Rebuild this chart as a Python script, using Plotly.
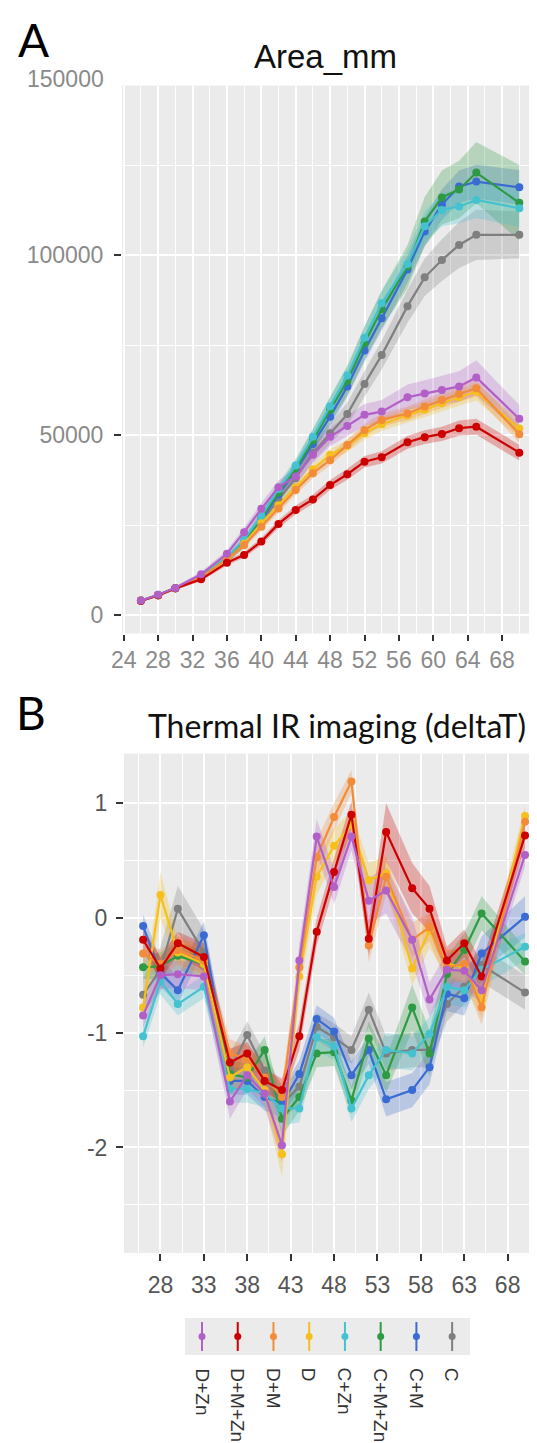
import plotly.graph_objects as go

# day of measurement (both panels)
days = [26, 28, 30, 33, 36, 38, 40, 42, 44, 46, 48, 50, 52, 54, 57, 59, 61, 63, 65, 70]

groups = ["D+Zn", "D+M+Zn", "D+M", "D", "C+Zn", "C+M+Zn", "C+M", "C"]
colors = ["#B260C8", "#CC0000", "#F28C38", "#F5BF1E", "#44C2CF", "#2E9B44", "#3A6BD2", "#7F7F7F"]

# Panel A: Area_mm (mean)
area_d_zn   = [4000, 5600, 7500, 11300, 17000, 23000, 29500, 35500, 38500, 44500, 49500, 52500, 55600, 56500, 60500, 61500, 62500, 63500, 66000, 54500]
area_d_m_zn = [3900, 5500, 7400, 9900, 14500, 16700, 20400, 25300, 29200, 32100, 36100, 39100, 42600, 43800, 48000, 49400, 50300, 51900, 52300, 45100]
area_d_m    = [4000, 5500, 7400, 10500, 15500, 19400, 24500, 29600, 34700, 39400, 43000, 47200, 51400, 54200, 56000, 57900, 59700, 61400, 63000, 50200]
area_d      = [4000, 5500, 7400, 10400, 15200, 19800, 25500, 30500, 35500, 40500, 44500, 47000, 50500, 53000, 55500, 57000, 58800, 60500, 62000, 51800]
area_c_zn   = [4000, 5600, 7500, 10800, 16000, 21000, 27500, 35000, 41500, 49500, 58000, 66500, 77000, 86600, 97500, 108000, 112500, 113500, 115300, 113000]
area_c_m_zn = [4000, 5500, 7400, 10600, 15500, 20000, 27000, 34000, 40500, 48500, 57000, 65000, 75500, 84900, 96800, 109300, 116000, 118200, 122900, 114500]
area_c_m    = [4000, 5500, 7400, 10600, 15500, 20000, 26500, 33500, 40000, 47500, 55100, 63500, 73500, 82400, 96000, 106500, 114000, 119000, 120400, 118800]
area_c      = [4000, 5500, 7400, 10500, 15500, 20000, 26000, 32000, 38000, 45000, 50500, 55800, 64200, 72200, 85800, 93800, 98600, 102800, 105600, 105600]

# Panel A: standard error (ribbon half-width)
area_se_d_zn   = [300, 400, 500, 700, 1000, 1300, 1600, 1900, 2100, 2400, 2600, 2800, 3000, 3200, 3500, 3700, 3900, 4200, 4800, 3800]
area_se_d_m_zn = [200, 300, 400, 500, 700, 800, 1000, 1100, 1200, 1300, 1400, 1500, 1600, 1700, 1800, 1900, 2000, 2100, 2200, 2200]
area_se_d_m    = [200, 300, 400, 500, 700, 900, 1000, 1200, 1300, 1400, 1500, 1600, 1700, 1800, 1900, 2000, 2100, 2200, 2300, 2400]
area_se_d      = [200, 300, 400, 500, 700, 900, 1100, 1200, 1300, 1500, 1600, 1700, 1800, 1900, 2000, 2100, 2200, 2300, 2400, 2500]
area_se_c_zn   = [200, 300, 400, 600, 900, 1100, 1400, 1700, 2000, 2300, 2600, 2900, 3200, 3500, 3900, 4200, 4500, 4700, 5000, 5200]
area_se_c_m_zn = [300, 400, 500, 700, 1000, 1300, 1700, 2100, 2500, 3000, 3500, 4000, 4600, 5200, 6000, 6800, 7500, 8000, 8500, 10500]
area_se_c_m    = [200, 300, 400, 600, 900, 1100, 1400, 1700, 2000, 2300, 2600, 2900, 3200, 3500, 3800, 4100, 4300, 4500, 4700, 4800]
area_se_c      = [200, 300, 400, 600, 900, 1200, 1500, 1800, 2100, 2400, 2800, 3200, 3600, 4000, 4600, 5200, 5800, 6400, 7000, 6500]

# Panel B: Thermal IR imaging (deltaT) (mean)
dt_d_zn   = [-0.85, -0.50, -0.49, -0.51, -1.60, -1.37, -1.53, -1.98, -0.37, 0.71, 0.27, 0.71, 0.15, 0.24, -0.19, -0.71, -0.45, -0.46, -0.63, 0.55]
dt_d_m_zn = [-0.19, -0.44, -0.22, -0.34, -1.26, -1.18, -1.42, -1.50, -1.03, -0.12, 0.40, 0.90, -0.18, 0.75, 0.26, 0.08, -0.37, -0.22, -0.51, 0.72]
dt_d_m    = [-0.31, -0.40, -0.28, -0.37, -1.18, -1.23, -1.39, -1.56, -0.43, 0.53, 0.88, 1.19, -0.24, 0.36, -0.19, -0.08, -0.43, -0.40, -0.78, 0.84]
dt_d      = [-0.78, 0.20, -0.30, -0.40, -1.39, -1.30, -1.50, -2.06, -0.51, 0.36, 0.63, 0.81, 0.33, 0.39, -0.44, -0.11, -0.40, -0.43, -0.72, 0.89]
dt_c_zn   = [-1.03, -0.55, -0.75, -0.60, -1.49, -1.49, -1.53, -1.66, -1.66, -1.04, -1.12, -1.66, -1.37, -1.15, -1.18, -1.01, -0.60, -0.63, -0.45, -0.25]
dt_c_m_zn = [-0.43, -0.42, -0.33, -0.40, -1.36, -1.39, -1.15, -1.75, -1.56, -1.18, -1.17, -1.59, -1.05, -1.37, -0.78, -1.18, -0.49, -0.28, 0.04, -0.38]
dt_c_m    = [-0.07, -0.48, -0.63, -0.15, -1.42, -1.42, -1.56, -1.62, -1.36, -0.88, -0.99, -1.37, -1.15, -1.58, -1.50, -1.30, -0.66, -0.70, -0.31, 0.01]
dt_c      = [-0.67, -0.45, 0.08, -0.30, -1.33, -1.02, -1.33, -1.62, -1.47, -0.95, -1.04, -1.15, -0.80, -1.18, -1.15, -1.15, -0.75, -0.60, -0.41, -0.65]

# Panel B: standard error
dt_se_d_zn   = [0.10, 0.12, 0.12, 0.12, 0.15, 0.12, 0.12, 0.15, 0.15, 0.15, 0.15, 0.12, 0.20, 0.20, 0.20, 0.15, 0.15, 0.15, 0.12, 0.10]
dt_se_d_m_zn = [0.10, 0.10, 0.10, 0.12, 0.12, 0.10, 0.10, 0.10, 0.12, 0.12, 0.12, 0.12, 0.15, 0.25, 0.22, 0.20, 0.12, 0.12, 0.12, 0.10]
dt_se_d_m    = [0.10, 0.12, 0.12, 0.12, 0.12, 0.12, 0.12, 0.12, 0.15, 0.15, 0.12, 0.10, 0.15, 0.15, 0.15, 0.12, 0.15, 0.15, 0.15, 0.10]
dt_se_d      = [0.10, 0.20, 0.12, 0.12, 0.15, 0.12, 0.12, 0.20, 0.15, 0.15, 0.15, 0.12, 0.15, 0.15, 0.15, 0.15, 0.12, 0.15, 0.15, 0.10]
dt_se_c_zn   = [0.10, 0.12, 0.10, 0.10, 0.12, 0.12, 0.12, 0.15, 0.12, 0.12, 0.12, 0.12, 0.12, 0.15, 0.15, 0.15, 0.15, 0.15, 0.15, 0.12]
dt_se_c_m_zn = [0.10, 0.12, 0.12, 0.12, 0.12, 0.12, 0.12, 0.15, 0.12, 0.12, 0.12, 0.12, 0.15, 0.15, 0.20, 0.20, 0.15, 0.15, 0.15, 0.12]
dt_se_c_m    = [0.10, 0.12, 0.12, 0.12, 0.12, 0.12, 0.12, 0.12, 0.12, 0.12, 0.12, 0.12, 0.12, 0.15, 0.15, 0.15, 0.15, 0.15, 0.15, 0.18]
dt_se_c      = [0.15, 0.20, 0.20, 0.20, 0.15, 0.12, 0.15, 0.15, 0.15, 0.12, 0.12, 0.12, 0.15, 0.15, 0.15, 0.15, 0.15, 0.15, 0.15, 0.15]

area_means = [area_d_zn, area_d_m_zn, area_d_m, area_d, area_c_zn, area_c_m_zn, area_c_m, area_c]
area_ses = [area_se_d_zn, area_se_d_m_zn, area_se_d_m, area_se_d, area_se_c_zn, area_se_c_m_zn, area_se_c_m, area_se_c]
dt_means = [dt_d_zn, dt_d_m_zn, dt_d_m, dt_d, dt_c_zn, dt_c_m_zn, dt_c_m, dt_c]
dt_ses = [dt_se_d_zn, dt_se_d_m_zn, dt_se_d_m, dt_se_d, dt_se_c_zn, dt_se_c_m_zn, dt_se_c_m, dt_se_c]

# the page body has an 8px margin, so the figure is made 8px smaller
OFF = 8
W, H = 537 - OFF, 1443 - OFF


def px(x):
    return (x - OFF) / W


def py(y):
    return 1 - (y - OFF) / H


def rgba(hex_color, a):
    h = hex_color.lstrip("#")
    return f"rgba({int(h[0:2], 16)},{int(h[2:4], 16)},{int(h[4:6], 16)},{a})"


fig = go.Figure()

# draw order: C first, D+Zn last
order = list(range(len(groups)))[::-1]

for means, ses, xa, ya in [(area_means, area_ses, "x", "y"), (dt_means, dt_ses, "x2", "y2")]:
    # ribbons
    for i in order:
        up = [m + s for m, s in zip(means[i], ses[i])]
        lo = [m - s for m, s in zip(means[i], ses[i])]
        fig.add_trace(go.Scatter(
            x=days + days[::-1], y=up + lo[::-1], fill="toself",
            fillcolor=rgba(colors[i], 0.28), line=dict(width=0),
            xaxis=xa, yaxis=ya, hoverinfo="skip", showlegend=False))
    # lines + points
    for i in order:
        fig.add_trace(go.Scatter(
            x=days, y=means[i], mode="lines+markers", name=groups[i],
            line=dict(color=colors[i], width=2.2), marker=dict(color=colors[i], size=8),
            xaxis=xa, yaxis=ya, showlegend=False))

# legend keys (own small axis)
for i, g in enumerate(groups):
    fig.add_trace(go.Scatter(
        x=[i], y=[0], mode="markers", marker=dict(color=colors[i], size=7),
        error_y=dict(type="data", array=[1.25], color=colors[i], thickness=2, width=0),
        xaxis="x3", yaxis="y3", showlegend=False, hoverinfo="skip"))

tick_font_a = dict(family="Liberation Sans, Arial", size=23, color="#8a8a8a")
tick_font_b = dict(family="Liberation Sans, Arial", size=23, color="#555555")
grid = dict(showgrid=True, gridcolor="white", gridwidth=1.5, zeroline=False, showline=False,
            ticks="outside", tickwidth=2, tickcolor="#333333", automargin=False)

fig.update_layout(
    width=W, height=H, autosize=False,
    margin=dict(l=0, r=0, t=0, b=0),
    paper_bgcolor="white", plot_bgcolor="#EBEBEB",
    xaxis=dict(domain=[px(122), 1.0], range=[23.8, 72.06], anchor="y",
               tickvals=list(range(24, 69, 4)), tickfont=tick_font_a, ticklen=6,
               minor=dict(dtick=2, tick0=24, showgrid=True, gridcolor="white", gridwidth=0.9),
               **grid),
    yaxis=dict(domain=[py(633.5), py(85.6)], range=[-5140, 147060], anchor="x",
               tickvals=[0, 50000, 100000], ticktext=["0", "50000", "100000"],
               tickfont=tick_font_a, ticklen=7, ticklabelstandoff=6,
               minor=dict(tickvals=[25000, 75000, 125000], showgrid=True, gridcolor="white", gridwidth=0.9),
               **grid),
    xaxis2=dict(domain=[px(124), 1.0], range=[23.8, 71.38], anchor="y2",
                tickvals=list(range(28, 69, 5)), tickfont=tick_font_b, ticklen=7, ticklabelstandoff=4,
                minor=dict(dtick=2.5, tick0=28, showgrid=True, gridcolor="white", gridwidth=0.9),
                **grid),
    yaxis2=dict(domain=[py(1253), py(753.6)], range=[-2.92, 1.433], anchor="x2",
                tickvals=[-2, -1, 0, 1], ticktext=["-2", "-1", "0", "1"],
                tickfont=tick_font_b, ticklen=7, ticklabelstandoff=4,
                minor=dict(tickvals=[-2.5, -1.5, -0.5, 0.5], showgrid=True, gridcolor="white", gridwidth=0.9),
                **grid),
    xaxis3=dict(domain=[px(185), px(470)], range=[-0.476, 7.5], anchor="y3",
                showgrid=False, zeroline=False, showticklabels=False, ticks=""),
    yaxis3=dict(domain=[py(1355), py(1318)], range=[-1.6, 1.6], anchor="x3",
                showgrid=False, zeroline=False, showticklabels=False, ticks=""),
)


def label(text, x, y, font, xanchor="center", yanchor="middle"):
    return dict(text=text, x=px(x), y=py(y), xref="paper", yref="paper", showarrow=False,
                xanchor=xanchor, yanchor=yanchor, font=font)


annotations = [
    label("A", 33, 40, dict(family="Lato", size=46, color="black")),
    label("B", 31, 712, dict(family="Lato", size=46, color="black")),
    label("Area_mm", 325, 56, dict(family="Liberation Sans, Arial", size=33, color="#111111")),
    label("Thermal IR imaging (deltaT)", 337, 726, dict(family="Lato", size=32, color="#111111")),
    # 150000 label sits just above panel A
    label("150000", 106, 79, tick_font_a, xanchor="right"),
]
for i, g in enumerate(groups):
    annotations.append(dict(text=g, x=i, xref="x3", y=py(1366), yref="paper",
                            showarrow=False, textangle=90, xanchor="center", yanchor="top",
                            font=dict(family="Liberation Sans, Arial", size=19, color="#333333")))
fig.update_layout(annotations=annotations)

fig.write_html("out.html")
